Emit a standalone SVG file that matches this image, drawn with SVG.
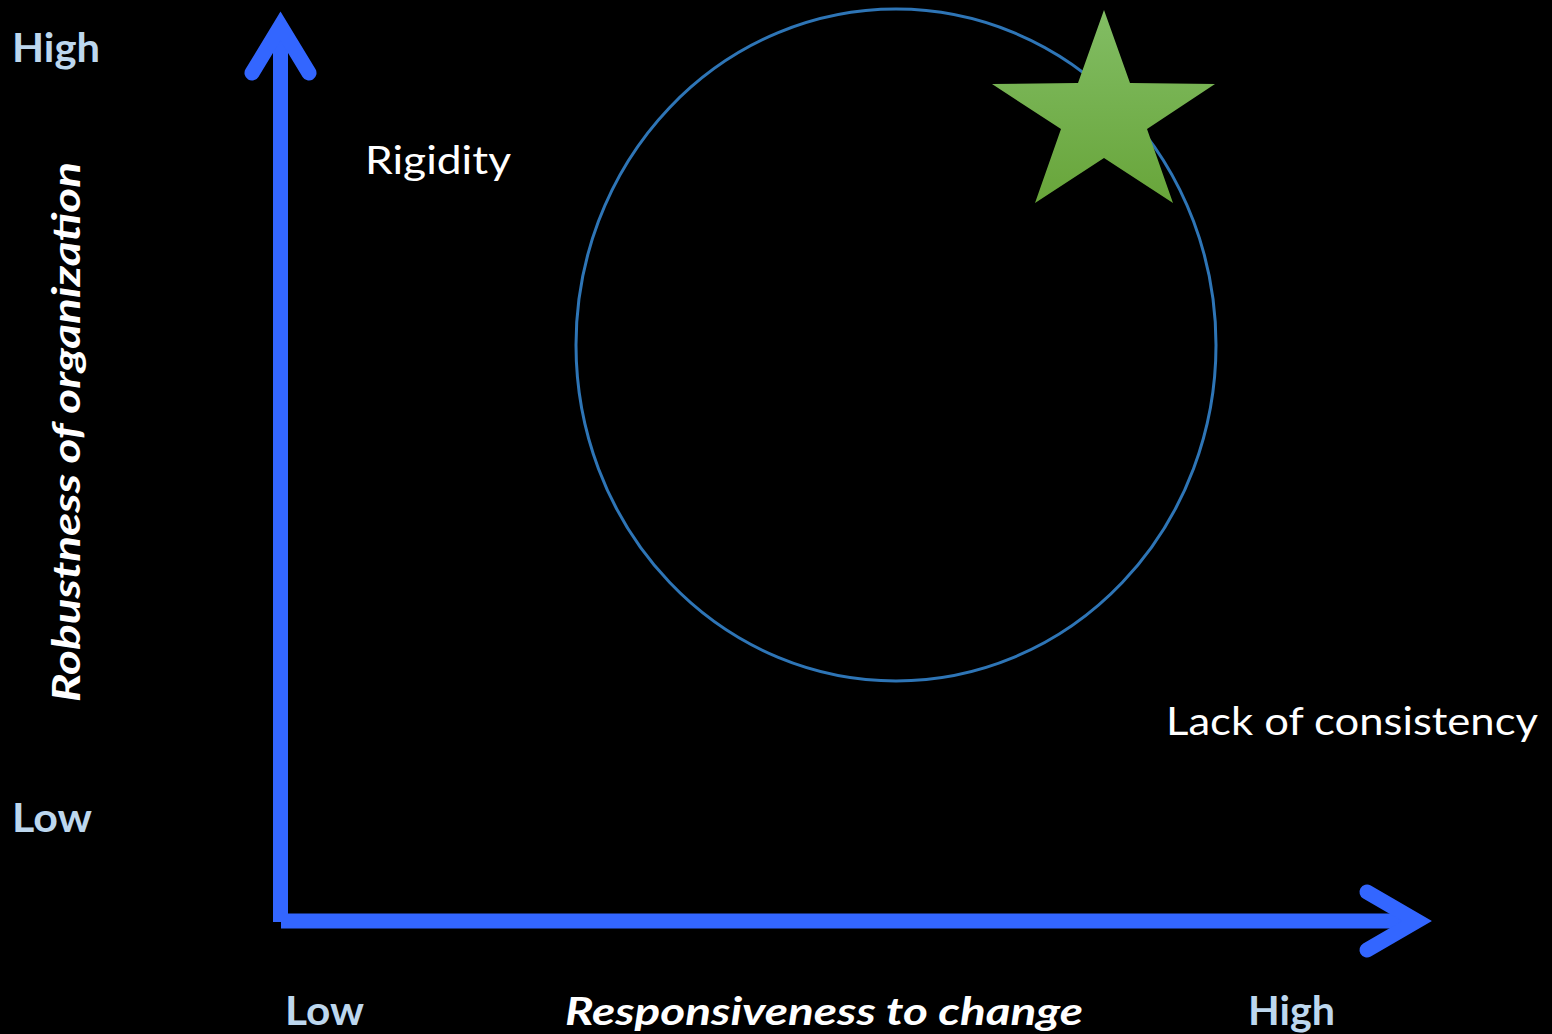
<svg xmlns="http://www.w3.org/2000/svg" width="1552" height="1034" viewBox="0 0 1552 1034">
  <style>
    .axis { stroke: #3366FF; stroke-width: 15; fill: none; }
    .head { stroke: #3366FF; stroke-width: 15; fill: none; stroke-linecap: round; stroke-linejoin: miter; stroke-miterlimit: 10; }
    .tick { font-family: Lato, "Open Sans", "Liberation Sans", sans-serif; font-weight: bold; font-size: 40px; fill: #BDD7EE; }
    .title { font-family: Lato, "Open Sans", "Liberation Sans", sans-serif; font-weight: bold; font-style: italic; font-size: 39px; fill: #FFFFFF; }
    .label { font-family: Lato, "Open Sans", "Liberation Sans", sans-serif; font-size: 39px; fill: #FFFFFF; }
  </style>
  <defs>
    <linearGradient id="starGrad" x1="0" y1="0" x2="0" y2="1">
      <stop offset="0" stop-color="#82BD64"/>
      <stop offset="1" stop-color="#68A53A"/>
    </linearGradient>
  </defs>
  <rect x="0" y="0" width="1552" height="1034" fill="#000000"/>

  <g id="circle">
    <ellipse cx="896" cy="345" rx="320" ry="336" fill="none" stroke="#2E75B6" stroke-width="3"/>
  </g>

  <g id="star">
    <polygon points="1104,10 1130,83 1215,84 1147,129 1173,203 1104,158 1035,203 1061,129 992,84 1078,83" fill="url(#starGrad)"/>
  </g>

  <g id="connectors">
    <line class="axis" x1="280.5" y1="26" x2="280.5" y2="922"/>
    <polyline class="head" points="252,73 280.5,26 309,73"/>
    <line class="axis" x1="281" y1="921" x2="1417" y2="921"/>
    <polyline class="head" points="1367,892 1417,921 1367,950"/>
  </g>

  <g id="y-high"><text class="tick" x="12" y="62" textLength="88" lengthAdjust="spacingAndGlyphs">High</text></g>
  <g id="y-low"><text class="tick" x="12" y="832" textLength="80" lengthAdjust="spacingAndGlyphs">Low</text></g>
  <g id="x-low"><text class="tick" x="285" y="1025" textLength="79" lengthAdjust="spacingAndGlyphs">Low</text></g>
  <g id="x-high"><text class="tick" x="1248" y="1025" textLength="87" lengthAdjust="spacingAndGlyphs">High</text></g>

  <g id="y-title"><text class="title" transform="translate(80,702) rotate(-90)" x="0" y="0" textLength="540" lengthAdjust="spacingAndGlyphs">Robustness of organization</text></g>
  <g id="x-title"><text class="title" x="565" y="1025" textLength="518" lengthAdjust="spacingAndGlyphs">Responsiveness to change</text></g>

  <g id="rigidity"><text class="label" x="365" y="174" textLength="146" lengthAdjust="spacingAndGlyphs">Rigidity</text></g>
  <g id="lack"><text class="label" x="1166" y="735" textLength="372" lengthAdjust="spacingAndGlyphs">Lack of consistency</text></g>
</svg>
